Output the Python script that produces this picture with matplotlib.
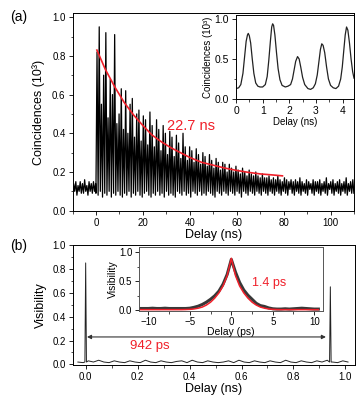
import numpy as np
import matplotlib
matplotlib.use('Agg')
import matplotlib.pyplot as plt

plt.rcParams['font.family'] = ['Liberation Sans', 'DejaVu Sans']

RED = '#f0202a'

# (a) main trace: comb of peaks with period 0.94 ns
period = 0.94
pre_hi = [0.14, 0.15, 0.13, 0.15, 0.14, 0.16, 0.13, 0.15, 0.14, 0.15, 0.14]
pre_lo = [0.09, 0.10, 0.08, 0.10, 0.09, 0.09, 0.10, 0.08, 0.10, 0.09, 0.10]
comb_hi = [
    0.82, 0.95, 0.55, 0.70, 0.92, 0.48, 0.68, 0.60, 0.91, 0.45,
    0.50, 0.63, 0.42, 0.62, 0.40, 0.55, 0.58, 0.38, 0.50, 0.52,
    0.36, 0.49, 0.47, 0.34, 0.51, 0.44, 0.33, 0.47, 0.42, 0.31,
    0.44, 0.40, 0.29, 0.41, 0.38, 0.28, 0.39, 0.35, 0.27, 0.40,
    0.33, 0.26, 0.33, 0.31, 0.25, 0.32, 0.29, 0.24, 0.30, 0.28,
    0.23, 0.29, 0.26, 0.22, 0.27, 0.25, 0.21, 0.25, 0.24, 0.20,
    0.24, 0.22, 0.20, 0.23, 0.21, 0.19, 0.22, 0.20, 0.18, 0.21,
    0.19, 0.18, 0.20, 0.18, 0.17, 0.19, 0.17, 0.17, 0.18, 0.16,
    0.17, 0.16, 0.18, 0.16, 0.15, 0.17, 0.16, 0.15, 0.16, 0.15,
    0.16, 0.15, 0.17, 0.15, 0.14, 0.16, 0.15, 0.14, 0.16, 0.15,
    0.15, 0.16, 0.14, 0.15, 0.17, 0.14, 0.15, 0.16, 0.14, 0.15,
    0.16, 0.14, 0.15, 0.17, 0.14, 0.15, 0.16,
]
comb_lo = [
    0.09, 0.08, 0.10, 0.07, 0.09, 0.08, 0.10, 0.07, 0.09, 0.08,
    0.10, 0.08, 0.07, 0.09, 0.08, 0.10, 0.07, 0.09, 0.08, 0.10,
    0.08, 0.07, 0.09, 0.10, 0.08, 0.07, 0.09, 0.08, 0.10, 0.08,
    0.09, 0.07, 0.10, 0.08, 0.09, 0.08, 0.07, 0.10, 0.09, 0.08,
    0.10, 0.08, 0.09, 0.07, 0.10, 0.09, 0.08, 0.10, 0.08, 0.09,
    0.08, 0.10, 0.09, 0.08, 0.07, 0.10, 0.09, 0.08, 0.10, 0.09,
    0.08, 0.10, 0.09, 0.08, 0.10, 0.09, 0.07, 0.10, 0.09, 0.08,
    0.10, 0.09, 0.08, 0.10, 0.09, 0.08, 0.10, 0.09, 0.08, 0.10,
    0.09, 0.08, 0.10, 0.09, 0.08, 0.10, 0.09, 0.08, 0.11, 0.09,
    0.08, 0.10, 0.09, 0.08, 0.10, 0.09, 0.08, 0.11, 0.09, 0.08,
    0.10, 0.09, 0.08, 0.10, 0.09, 0.08, 0.11, 0.09, 0.08, 0.10,
    0.09, 0.08, 0.10, 0.09, 0.08, 0.10, 0.09,
]

# (a) exponential fit, 22.7 ns
fit_t = [0.4, 4, 8, 12, 16, 20, 24, 28, 32, 36, 40, 45, 50, 55, 60, 65, 70, 75, 79.5]
fit_y = [0.83, 0.73, 0.64, 0.56, 0.495, 0.44, 0.39, 0.355, 0.325, 0.30, 0.275,
         0.25, 0.235, 0.22, 0.208, 0.198, 0.19, 0.185, 0.18]

# (a) inset: first five peaks
ins_t = [0.0, 0.1, 0.18, 0.26, 0.32, 0.38, 0.43, 0.46, 0.5, 0.55, 0.61, 0.67,
         0.74, 0.82, 0.9, 1.0,
         1.1, 1.17, 1.23, 1.29, 1.34, 1.375, 1.41, 1.46, 1.52, 1.58, 1.65,
         1.73, 1.85, 1.95, 2.05,
         2.12, 2.18, 2.24, 2.31, 2.37, 2.43, 2.5, 2.58, 2.7, 2.8, 2.9, 2.98,
         3.05, 3.11, 3.17, 3.22, 3.27, 3.33, 3.4, 3.47, 3.55, 3.65, 3.75,
         3.85, 3.93,
         3.99, 4.05, 4.1, 4.15, 4.2, 4.26, 4.32, 4.38, 4.43]
ins_y = [0.13, 0.14, 0.18, 0.32, 0.52, 0.72, 0.80, 0.82, 0.79, 0.70, 0.50, 0.32,
         0.20, 0.16, 0.15, 0.15,
         0.18, 0.28, 0.48, 0.72, 0.90, 0.94, 0.92, 0.80, 0.58, 0.38, 0.24,
         0.17, 0.15, 0.16, 0.18,
         0.25, 0.36, 0.47, 0.53, 0.50, 0.40, 0.27, 0.18, 0.13, 0.12, 0.14, 0.19,
         0.30, 0.46, 0.62, 0.69, 0.67, 0.58, 0.40, 0.25, 0.17, 0.14, 0.13,
         0.16, 0.25,
         0.40, 0.62, 0.80, 0.90, 0.86, 0.70, 0.50, 0.34, 0.26]

# (b) main trace: baseline and two narrow peaks
base_y = [0.02, 0.015, 0.03, 0.02, 0.035, 0.02, 0.015, 0.03, 0.02, 0.015,
          0.03, 0.02, 0.015, 0.035, 0.02, 0.015, 0.03, 0.02, 0.015, 0.025,
          0.03, 0.015, 0.035, 0.02, 0.015, 0.03, 0.02, 0.015, 0.02, 0.03,
          0.015, 0.035, 0.02, 0.015, 0.03, 0.02, 0.015, 0.03, 0.02, 0.015,
          0.035, 0.02, 0.015, 0.03, 0.02, 0.015, 0.03, 0.02, 0.035, 0.02,
          0.015, 0.03, 0.02]
spike_t = [0.0, 0.942]
spike_y = [0.85, 0.65]

# (b) inset: visibility vs delay (ps)
vis_y = [0.03, 0.03, 0.03, 0.035, 0.03, 0.03, 0.035, 0.03, 0.03, 0.03,
         0.03, 0.03, 0.035, 0.05, 0.07, 0.10, 0.14, 0.19, 0.25, 0.33,
         0.45, 0.62, 0.88, 0.66, 0.48, 0.35, 0.26, 0.19, 0.12, 0.08,
         0.065, 0.04, 0.025, 0.02, 0.02, 0.025, 0.02, 0.025, 0.03, 0.035,
         0.03, 0.025, 0.02, 0.02]
vfit_y = [0.01, 0.01, 0.01, 0.01, 0.01, 0.01, 0.01, 0.01, 0.01, 0.01,
          0.01, 0.012, 0.015, 0.022, 0.035, 0.055, 0.09, 0.14, 0.21, 0.30,
          0.42, 0.60, 0.90, 0.60, 0.42, 0.30, 0.21, 0.14, 0.09, 0.055,
          0.035, 0.022, 0.015, 0.012, 0.01, 0.01, 0.01, 0.01, 0.01, 0.01,
          0.01, 0.01, 0.01, 0.01]


def style(ax, size):
    ax.tick_params(which='both', direction='out', top=False, right=False,
                   labelsize=size, pad=2)
    ax.tick_params(which='major', length=3, width=0.6)
    ax.tick_params(which='minor', length=1.8, width=0.5)
    for s in ax.spines.values():
        s.set_linewidth(0.7)


fig = plt.figure(figsize=(3.57, 4.04), dpi=100)

# ---- panel (a)
ax = fig.add_axes([0.2031, 0.4785, 0.7885, 0.4886])
pre_t = -10.0 + period * np.arange(len(pre_hi))
comb_t = 0.45 + period * np.arange(len(comb_hi))
xs = np.concatenate([np.column_stack([pre_t, pre_t + period / 2]).ravel(),
                     np.column_stack([comb_t - period / 2, comb_t]).ravel(),
                     [comb_t[-1] + period / 2]])
ys = np.concatenate([np.column_stack([pre_lo, pre_hi]).ravel(),
                     np.column_stack([comb_lo, comb_hi]).ravel(),
                     [comb_lo[-1]]])
ax.plot(xs, ys, color='black', lw=0.9)
ax.plot(fit_t, fit_y, color=RED, lw=1.2)
ax.text(40.5, 0.44, '22.7 ns', color=RED, fontsize=10.5, ha='center', va='center')
ax.set_xlim(-10, 110)
ax.set_ylim(0, 1.02)
ax.set_xticks([0, 20, 40, 60, 80, 100])
ax.set_xticks(np.arange(-10, 111, 10), minor=True)
ax.set_yticks([0.0, 0.2, 0.4, 0.6, 0.8, 1.0])
ax.set_yticks(np.arange(0, 1.01, 0.1), minor=True)
ax.set_xticklabels(['0', '20', '40', '60', '80', '100'])
ax.set_yticklabels(['0.0', '0.2', '0.4', '0.6', '0.8', '1.0'])
ax.set_xlabel('Delay (ns)', fontsize=9, labelpad=1)
ax.set_ylabel('Coincidences (10³)', fontsize=9, labelpad=5)
style(ax, 7)
fig.text(0.028, 0.958, '(a)', fontsize=10, va='center')

# inset (a)
axi = fig.add_axes([0.6611, 0.7550, 0.3305, 0.2079])
axi.plot(ins_t, ins_y, color='#222222', lw=0.9)
axi.set_xlim(0, 4.43)
axi.set_ylim(0, 1.05)
axi.set_xticks([0, 1, 2, 3, 4])
axi.set_xticks(np.arange(0, 4.5, 0.5), minor=True)
axi.set_yticks([0.0, 0.5, 1.0])
axi.set_yticks([0.25, 0.75], minor=True)
axi.set_yticklabels(['0.0', '0.5', '1.0'])
axi.set_xlabel('Delay (ns)', fontsize=7, labelpad=1)
axi.set_ylabel('Coincidences (10³)', fontsize=7, labelpad=1)
style(axi, 7.5)

# ---- panel (b)
bx = fig.add_axes([0.2036, 0.0965, 0.7894, 0.2970])
base_t = np.linspace(-0.03, 1.01, len(base_y))
bt = list(base_t)
by = list(base_y)
for t, h in zip(spike_t, spike_y):
    bt += [t - 0.003, t, t + 0.003]
    by += [0.02, h, 0.02]
order = np.argsort(bt)
bx.plot(np.array(bt)[order], np.array(by)[order], color='#222222', lw=0.7)
bx.annotate('', xy=(0.005, 0.23), xytext=(0.925, 0.23),
            arrowprops=dict(arrowstyle='<|-|>', color='#333333', lw=0.8,
                            mutation_scale=6, shrinkA=0, shrinkB=0))
bx.text(0.247, 0.155, '942 ps', color=RED, fontsize=9.5, ha='center', va='center')
bx.set_xlim(-0.05, 1.035)
bx.set_ylim(-0.005, 1.0)
bx.set_xticks([0.0, 0.2, 0.4, 0.6, 0.8, 1.0])
bx.set_xticks(np.arange(0, 1.01, 0.1), minor=True)
bx.set_yticks([0.0, 0.2, 0.4, 0.6, 0.8, 1.0])
bx.set_yticks(np.arange(0, 1.01, 0.1), minor=True)
bx.set_xticklabels(['0.0', '0.2', '0.4', '0.6', '0.8', '1.0'])
bx.set_yticklabels(['0.0', '0.2', '0.4', '0.6', '0.8', '1.0'])
bx.set_xlabel('Delay (ns)', fontsize=9, labelpad=1)
bx.set_ylabel('Visibility', fontsize=9, labelpad=4)
style(bx, 7)
fig.text(0.028, 0.392, '(b)', fontsize=10, va='center')

# inset (b)
bxi = fig.add_axes([0.3902, 0.2314, 0.5132, 0.1565])
vt = np.linspace(-11, 10.5, len(vis_y))
bxi.plot(vt, vis_y, color='#222222', lw=2.2, alpha=0.9)
bxi.plot(vt, vfit_y, color=RED, lw=1.1)
bxi.text(4.55, 0.47, '1.4 ps', color=RED, fontsize=9, ha='center', va='center')
bxi.set_xlim(-11.1, 11.0)
bxi.set_ylim(-0.005, 1.09)
bxi.set_xticks([-10, -5, 0, 5, 10])
bxi.set_xticks(np.arange(-10, 11, 2.5), minor=True)
bxi.set_yticks([0.0, 0.5, 1.0])
bxi.set_yticks([0.25, 0.75], minor=True)
bxi.set_yticklabels(['0.0', '0.5', '1.0'])
bxi.set_xlabel('Delay (ps)', fontsize=7.5, labelpad=0)
bxi.set_ylabel('Visibility', fontsize=7.5, labelpad=1)
style(bxi, 7)
for s in bxi.spines.values():
    s.set_color('#555555')

fig.savefig('out.png', dpi=100)
